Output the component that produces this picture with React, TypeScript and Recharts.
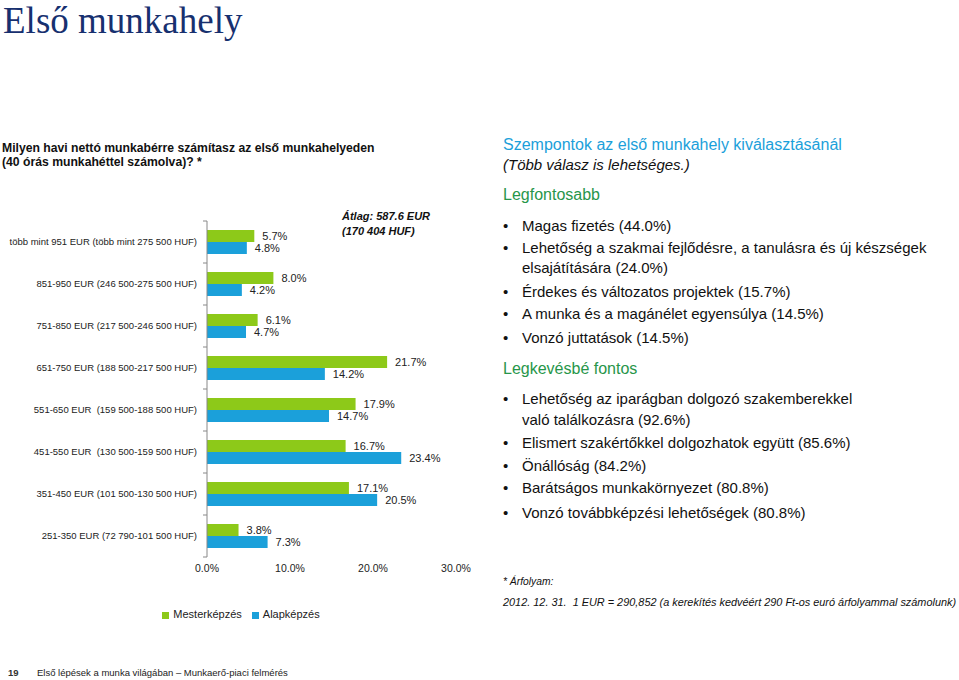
import React from 'react';
import { BarChart, Bar, XAxis, YAxis, Legend, LabelList } from 'recharts';

const categories = [
  'több mint 951 EUR (több mint 275 500 HUF)',
  '851-950 EUR (246 500-275 500 HUF)',
  '751-850 EUR (217 500-246 500 HUF)',
  '651-750 EUR (188 500-217 500 HUF)',
  '551-650 EUR  (159 500-188 500 HUF)',
  '451-550 EUR  (130 500-159 500 HUF)',
  '351-450 EUR (101 500-130 500 HUF)',
  '251-350 EUR (72 790-101 500 HUF)',
];
const mesterkepzes = [5.7, 8.0, 6.1, 21.7, 17.9, 16.7, 17.1, 3.8];
const alapkepzes = [4.8, 4.2, 4.7, 14.2, 14.7, 23.4, 20.5, 7.3];
const xTicks = [0, 10, 20, 30];

const legfontosabb = [
  ['Magas fizetés (44.0%)'],
  ['Lehetőség a szakmai fejlődésre, a tanulásra és új készségek', 'elsajátítására (24.0%)'],
  ['Érdekes és változatos projektek (15.7%)'],
  ['A munka és a magánélet egyensúlya (14.5%)'],
  ['Vonzó juttatások (14.5%)'],
];
const legkevesbe = [
  ['Lehetőség az iparágban dolgozó szakemberekkel', 'való találkozásra (92.6%)'],
  ['Elismert szakértőkkel dolgozhatok együtt (85.6%)'],
  ['Önállóság (84.2%)'],
  ['Barátságos munkakörnyezet (80.8%)'],
  ['Vonzó továbbképzési lehetőségek (80.8%)'],
];

const data = categories.map((name, i) => ({
  name,
  mester: mesterkepzes[i],
  alap: alapkepzes[i],
}));

const FONT = '"Liberation Sans", Arial, sans-serif';
const GREEN = '#8dc919';
const BLUE = '#1ba0da';
const BAND = 42;

const pct = (v: any) => Number(v).toFixed(1) + '%';

function CategoryTick(props: any) {
  const { x, y, payload, index } = props;
  const axisX = x + 10;
  return (
    <g>
      <text
        x={x}
        y={y}
        dy="0.35em"
        textAnchor="end"
        fontSize={9.5}
        fill="#222"
        fontFamily={FONT}
        style={{ whiteSpace: 'pre' }}
      >
        {payload.value}
      </text>
      <line x1={axisX - 4} x2={axisX} y1={y - BAND / 2} y2={y - BAND / 2} stroke="#888" />
      {index === categories.length - 1 && (
        <line x1={axisX - 4} x2={axisX} y1={y + BAND / 2} y2={y + BAND / 2} stroke="#888" />
      )}
    </g>
  );
}

function Txt({ x, y, size, children, style }: any) {
  const lh = size * 1.2;
  return (
    <div
      style={{
        position: 'absolute',
        left: x,
        top: y - lh / 2,
        fontSize: size,
        lineHeight: `${lh}px`,
        fontFamily: FONT,
        color: '#111',
        whiteSpace: 'nowrap',
        ...style,
      }}
    >
      {children}
    </div>
  );
}

function BulletList({ items, ys }: { items: string[][]; ys: number[] }) {
  let k = 0;
  const out: React.ReactNode[] = [];
  items.forEach((lines, i) => {
    lines.forEach((line, j) => {
      const y = ys[k++];
      if (j === 0) {
        out.push(
          <Txt key={`b${i}`} x={503} y={y} size={15}>
            •
          </Txt>
        );
      }
      out.push(
        <Txt key={`t${i}-${j}`} x={522} y={y} size={15}>
          {line}
        </Txt>
      );
    });
  });
  return <>{out}</>;
}

export default function App() {
  return (
    <div
      style={{
        position: 'absolute',
        left: 0,
        top: 0,
        width: 959,
        height: 680,
        background: '#fff',
        overflow: 'hidden',
      }}
    >
      <div
        style={{
          position: 'absolute',
          left: 3,
          top: 0,
          fontFamily: '"Liberation Serif", "Times New Roman", serif',
          fontSize: 37,
          lineHeight: '41px',
          color: '#17306f',
          whiteSpace: 'nowrap',
        }}
      >
        Első munkahely
      </div>

      <Txt x={2} y={148} size={12.2} style={{ fontWeight: 'bold' }}>
        Milyen havi nettó munkabérre számítasz az első munkahelyeden
      </Txt>
      <Txt x={2} y={162} size={12.2} style={{ fontWeight: 'bold' }}>
        (40 órás munkahéttel számolva)? *
      </Txt>

      <div style={{ position: 'absolute', left: 0, top: 0 }}>
        <BarChart
          width={480}
          height={640}
          data={data}
          layout="vertical"
          margin={{ top: 221, right: 24, left: 0, bottom: 16 }}
          barGap={0}
          barSize={12}
        >
          <XAxis
            type="number"
            domain={[0, 30]}
            ticks={xTicks}
            tickFormatter={pct}
            axisLine={false}
            tickLine={false}
            height={47}
            tick={{ fontSize: 10.5, fill: '#222', fontFamily: FONT }}
          />
          <YAxis
            type="category"
            dataKey="name"
            width={207}
            axisLine={{ stroke: '#888' }}
            tickLine={false}
            tickSize={0}
            tickMargin={10}
            interval={0}
            tick={<CategoryTick />}
          />
          <Legend
            verticalAlign="bottom"
            align="center"
            iconType="square"
            iconSize={7}
            itemSorter={(item: any) => (item.dataKey === 'mester' ? 0 : 1)}
            wrapperStyle={{ left: 18, height: 20, fontFamily: FONT, fontSize: 11, lineHeight: '20px' }}
            formatter={(v: any) => <span style={{ color: '#222' }}>{v}</span>}
          />
          <Bar dataKey="mester" name="Mesterképzés" fill={GREEN} isAnimationActive={false}>
            <LabelList
              dataKey="mester"
              position="right"
              offset={8}
              formatter={pct}
              style={{ fontSize: 11, fill: '#222', fontFamily: FONT }}
            />
          </Bar>
          <Bar dataKey="alap" name="Alapképzés" fill={BLUE} isAnimationActive={false}>
            <LabelList
              dataKey="alap"
              position="right"
              offset={8}
              formatter={pct}
              style={{ fontSize: 11, fill: '#222', fontFamily: FONT }}
            />
          </Bar>
        </BarChart>
      </div>

      <Txt x={342} y={217} size={11} style={{ fontWeight: 'bold', fontStyle: 'italic' }}>
        Átlag: 587.6 EUR
      </Txt>
      <Txt x={342} y={232} size={11} style={{ fontWeight: 'bold', fontStyle: 'italic' }}>
        (170 404 HUF)
      </Txt>

      <Txt x={503} y={145} size={16} style={{ color: '#1ba0da' }}>
        Szempontok az első munkahely kiválasztásánál
      </Txt>
      <Txt x={503} y={165} size={15} style={{ fontStyle: 'italic' }}>
        (Több válasz is lehetséges.)
      </Txt>
      <Txt x={503} y={195} size={16} style={{ color: '#27964a' }}>
        Legfontosabb
      </Txt>
      <BulletList items={legfontosabb} ys={[226, 248, 268, 292, 314, 338]} />
      <Txt x={503} y={369} size={16} style={{ color: '#27964a' }}>
        Legkevésbé fontos
      </Txt>
      <BulletList items={legkevesbe} ys={[399, 420, 443, 466, 488, 513]} />

      <Txt x={503} y={582} size={10.3} style={{ fontStyle: 'italic' }}>
        * Árfolyam:
      </Txt>
      <Txt x={503} y={603} size={10.9} style={{ fontStyle: 'italic' }}>
        2012. 12. 31.&nbsp;&nbsp;1 EUR = 290,852 (a kerekítés kedvéért 290 Ft-os euró árfolyammal számolunk)
      </Txt>

      <Txt x={8} y={673} size={9.5} style={{ fontWeight: 'bold', color: '#333' }}>
        19
      </Txt>
      <Txt x={37} y={673} size={9.5} style={{ color: '#222' }}>
        Első lépések a munka világában – Munkaerő-piaci felmérés
      </Txt>
    </div>
  );
}
